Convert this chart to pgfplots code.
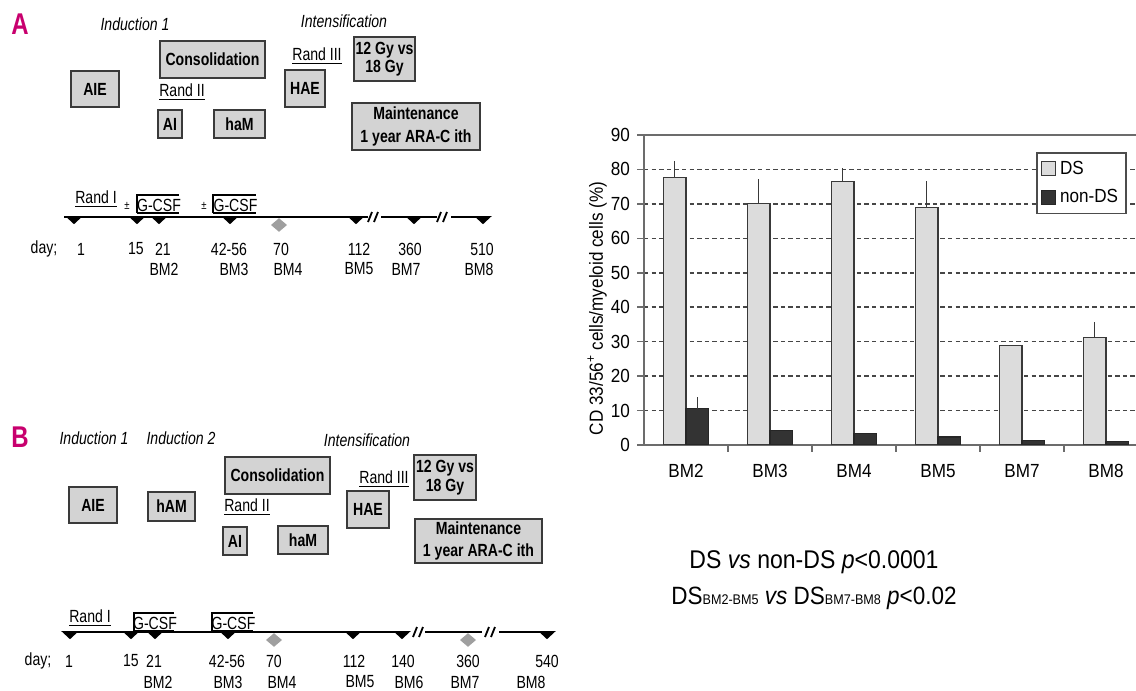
\documentclass[border=0pt]{standalone}
\usepackage{pgfplots}
\pgfplotsset{compat=1.18}
\usepackage{pgfplotstable}
\usepackage{fontspec}
\setmainfont{Liberation Sans}[FakeStretch=0.8]
\newfontfamily\chartfont{Liberation Sans}[FakeStretch=0.9]

\definecolor{magA}{HTML}{C8006E}
\definecolor{boxfill}{HTML}{D3D3D3}
\definecolor{boxdraw}{HTML}{3A3A3A}
\definecolor{dsfill}{HTML}{DCDCDC}
\definecolor{ndsfill}{HTML}{333333}

\newcommand{\sch}{\fontsize{8.8}{10.2}\selectfont}
\newcommand{\chf}{\chartfont\fontsize{9.5}{11}\selectfont}

\pgfdeclareplotmark{dtri}{%
  \pgfpathmoveto{\pgfqpoint{-4.4pt}{0.5pt}}%
  \pgfpathlineto{\pgfqpoint{4.4pt}{0.5pt}}%
  \pgfpathlineto{\pgfqpoint{0pt}{-3.6pt}}%
  \pgfpathclose\pgfusepathqfill}
\pgfdeclareplotmark{ddia}{%
  \pgfpathmoveto{\pgfqpoint{0pt}{3.4pt}}%
  \pgfpathlineto{\pgfqpoint{4pt}{0pt}}%
  \pgfpathlineto{\pgfqpoint{0pt}{-3.4pt}}%
  \pgfpathlineto{\pgfqpoint{-4pt}{0pt}}%
  \pgfpathclose\pgfusepathqfill}

\newcommand{\bx}[5]{%
  \draw[draw=boxdraw, fill=boxfill, line width=0.9pt] (axis cs:#1,#2) rectangle (axis cs:#3,#4);
  \node[font=\sch\bfseries, align=center, inner sep=0pt] at (axis cs:{0.5*(#1+#3)},{0.5*(#2+#4)}) {#5};}
\newcommand{\gcsf}[4]{%
  \draw[line width=1pt] (axis cs:#1,#4) -- (axis cs:#1,#3) -- (axis cs:#2,#3);
  \draw[line width=0.6pt] (axis cs:#1,#4) -- (axis cs:#2,#4);
  \node[font=\sch, inner sep=0pt] at (axis cs:{0.5*(#1+#2)+1},{0.5*(#3+#4)+1}) {G-CSF};}
\newcommand{\brk}[2]{%
  \draw[line width=0.9pt] (axis cs:#1-4,#2+5) -- (axis cs:#1,#2-5);
  \draw[line width=0.9pt] (axis cs:#1+2,#2+5) -- (axis cs:#1+6,#2-5);}

\pgfplotstableread{
x ds dserr nds ndserr
0 77.7 4.9 10.5 3.3
1 70.0 7.1 4.2 0
2 76.6 3.9 3.3 0
3 69.0 7.6 2.3 0
4 28.8 0.0 1.4 0
5 31.2 4.6 1.0 0
}\bmdata

\begin{document}
\begin{tikzpicture}
\useasboundingbox (0,0) rectangle (568pt,345.5pt);
\clip (0,0) rectangle (568pt,345.5pt);
% ---------------- schematic (pixel coordinates) ----------------
\begin{axis}[at={(0pt,0pt)}, anchor=south west, scale only axis,
  width=568pt, height=345.5pt, xmin=0, xmax=1136, ymin=0, ymax=691,
  y dir=reverse, hide axis, clip=false]
% ===== Panel A =====
\node[font=\bfseries\fontsize{15}{16}\selectfont, text=magA] at (axis cs:20,24) {A};
\node[font=\sch\itshape] at (axis cs:135,24) {Induction 1};
\node[font=\sch\itshape] at (axis cs:344,21) {Intensification};
\bx{160}{41}{265}{78}{Consolidation}
\bx{71}{71}{119}{107}{AIE}
\bx{158}{110}{182}{138}{AI}
\bx{214}{110}{265}{138}{haM}
\bx{285}{70}{325}{107}{HAE}
\bx{354}{37}{415}{81}{12 Gy vs\\[-1pt]18 Gy}
\bx{352}{103}{480}{150}{Maintenance\\[1pt]1 year ARA-C ith}
\node[font=\sch] at (axis cs:182,92) {\underline{Rand II}};
\node[font=\sch] at (axis cs:317,56) {\underline{Rand III}};
\node[font=\sch] at (axis cs:96,199) {\underline{Rand I}};
\node[font=\fontsize{6}{7}\selectfont] at (axis cs:127,206) {±};
\node[font=\fontsize{6}{7}\selectfont] at (axis cs:204,206) {±};
\gcsf{137}{179}{195}{213}
\gcsf{213}{256}{195}{213}
\draw[line width=1.2pt] (axis cs:64,217) -- (axis cs:368,217);
\draw[line width=1.2pt] (axis cs:381,217) -- (axis cs:437,217);
\draw[line width=1.2pt] (axis cs:451,217) -- (axis cs:489,217);
\brk{372}{217}
\brk{441}{217}
\addplot[only marks, mark=dtri, black] coordinates {(74,217) (137,217) (159,217) (230,217) (356,217) (414,217) (483,217)};
\addplot[only marks, mark=ddia, color=gray!75] coordinates {(279,225)};
\node[font=\sch] at (axis cs:44,249) {day;};
\node[font=\sch] at (axis cs:81,249) {1};
\node[font=\sch] at (axis cs:136,249) {15};
\node[font=\sch] at (axis cs:163,249) {21};
\node[font=\sch] at (axis cs:229,249) {42-56};
\node[font=\sch] at (axis cs:281,249) {70};
\node[font=\sch] at (axis cs:359,249) {112};
\node[font=\sch] at (axis cs:410,249) {360};
\node[font=\sch] at (axis cs:482,249) {510};
\node[font=\sch] at (axis cs:164,269) {BM2};
\node[font=\sch] at (axis cs:234,269) {BM3};
\node[font=\sch] at (axis cs:288,269) {BM4};
\node[font=\sch] at (axis cs:359,269) {BM5};
\node[font=\sch] at (axis cs:406,269) {BM7};
\node[font=\sch] at (axis cs:479,269) {BM8};
% ===== Panel B =====
\node[font=\bfseries\fontsize{15}{16}\selectfont, text=magA] at (axis cs:20,437) {B};
\node[font=\sch\itshape] at (axis cs:94,438) {Induction 1};
\node[font=\sch\itshape] at (axis cs:181,438) {Induction 2};
\node[font=\sch\itshape] at (axis cs:367,440) {Intensification};
\bx{225}{457}{330}{494}{Consolidation}
\bx{69}{487}{117}{523}{AIE}
\bx{148}{492}{195}{521}{hAM}
\bx{223}{527}{247}{555}{AI}
\bx{278}{526}{328}{554}{haM}
\bx{347}{491}{389}{528}{HAE}
\bx{414}{455}{476}{500}{12 Gy vs\\[-1pt]18 Gy}
\bx{415}{519}{542}{563}{Maintenance\\[1pt]1 year ARA-C ith}
\node[font=\sch] at (axis cs:247,507) {\underline{Rand II}};
\node[font=\sch] at (axis cs:384,479) {\underline{Rand III}};
\node[font=\sch] at (axis cs:90,618) {\underline{Rand I}};
\gcsf{134}{174}{613}{631}
\gcsf{212}{253}{613}{631}
\draw[line width=1.2pt] (axis cs:63,632) -- (axis cs:406,632);
\draw[line width=1.2pt] (axis cs:425,632) -- (axis cs:482,632);
\draw[line width=1.2pt] (axis cs:499,632) -- (axis cs:547,632);
\brk{417}{632}
\brk{489}{632}
\addplot[only marks, mark=dtri, black] coordinates {(70,632) (131,632) (155,632) (228,632) (353,632) (402,632) (547,632)};
\addplot[only marks, mark=ddia, color=gray!75] coordinates {(274,640) (468,640)};
\node[font=\sch] at (axis cs:38,661) {day;};
\node[font=\sch] at (axis cs:69,661) {1};
\node[font=\sch] at (axis cs:131,661) {15};
\node[font=\sch] at (axis cs:154,661) {21};
\node[font=\sch] at (axis cs:227,661) {42-56};
\node[font=\sch] at (axis cs:274,661) {70};
\node[font=\sch] at (axis cs:354,661) {112};
\node[font=\sch] at (axis cs:403,661) {140};
\node[font=\sch] at (axis cs:468,661) {360};
\node[font=\sch] at (axis cs:547,661) {540};
\node[font=\sch] at (axis cs:158,682) {BM2};
\node[font=\sch] at (axis cs:228,682) {BM3};
\node[font=\sch] at (axis cs:282,682) {BM4};
\node[font=\sch] at (axis cs:360,682) {BM5};
\node[font=\sch] at (axis cs:409,682) {BM6};
\node[font=\sch] at (axis cs:465,682) {BM7};
\node[font=\sch] at (axis cs:531,682) {BM8};
% ===== statistics text =====
\node[font=\chartfont\fontsize{12.8}{14}\selectfont] at (axis cs:814,562) {DS \textit{vs} non-DS \textit{p}<0.0001};
\node[font=\chartfont\fontsize{12.5}{14}\selectfont] at (axis cs:814,598) {DS{\fontsize{7}{8}\selectfont BM2-BM5} \textit{vs} DS{\fontsize{7}{8}\selectfont BM7-BM8} \textit{p}<0.02};
\end{axis}
% ---------------- bar chart ----------------
\begin{axis}[at={(322pt,123pt)}, anchor=south west, scale only axis,
  width=252pt, height=155pt,
  ybar=0pt, bar width=0.27,
  xmin=-0.5, xmax=5.5, ymin=0, ymax=90,
  axis line style={draw=gray!85!black, line width=0.8pt},
  tick style={draw=gray!85!black, line width=0.8pt},
  tick align=outside, ytick pos=left, xtick pos=bottom, major tick length=3.5pt,
  ytick={0,10,...,90},
  ymajorgrids, grid style={draw=gray!55!black, dash pattern=on 2.2pt off 1.6pt, line width=0.8pt},
  xtick={0.5,1.5,2.5,3.5,4.5}, xticklabels={},
  extra x ticks={0,1,2,3,4,5}, extra x tick labels={BM2,BM3,BM4,BM5,BM7,BM8},
  extra x tick style={major tick length=0pt, grid=none},
  tick label style={font=\chf},
  xticklabel style={yshift=-6pt},
  /pgf/number format/assume math mode=true,
  ylabel={CD 33/56\textsuperscript{+} cells/myeloid cells (\%)},
  ylabel style={font=\chf, at={(axis description cs:-0.093,0.44)}, anchor=center},
  legend style={at={(rel axis cs:0.958,0.945)}, anchor=north east, draw=gray!60!black,
    line width=0.8pt, font=\chf, inner sep=2pt, row sep=2pt, legend cell align=left},
  legend image code/.code={\draw[#1, line width=0.5pt] (0pt,-3.5pt) rectangle (7pt,3.5pt);},
]
\addplot[fill=dsfill, draw=gray!45!black, line width=0.6pt,
  error bars/.cd, y dir=plus, y explicit, error mark=none,
  error bar style={draw=gray!45!black, line width=0.7pt}]
  table[x=x, y=ds, y error=dserr] {\bmdata};
\addplot[fill=ndsfill, draw=black!85, line width=0.6pt,
  error bars/.cd, y dir=plus, y explicit, error mark=none,
  error bar style={draw=gray!45!black, line width=0.7pt}]
  table[x=x, y=nds, y error=ndserr] {\bmdata};
\legend{DS, non-DS}
\end{axis}
\end{tikzpicture}
\end{document}
